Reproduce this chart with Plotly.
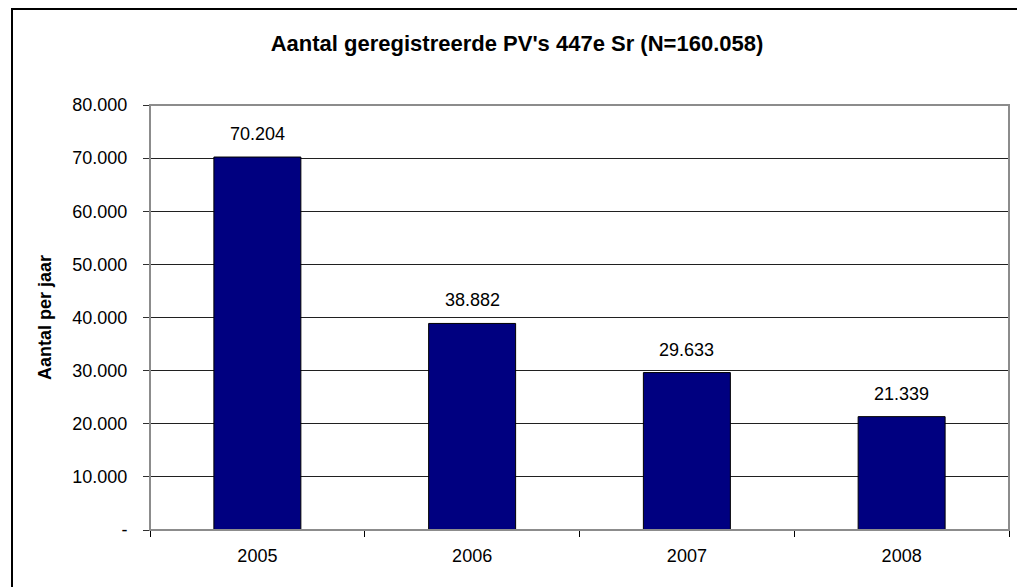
import plotly.graph_objects as go

# data
jaren = ["2005", "2006", "2007", "2008"]
aantallen = [70204, 38882, 29633, 21339]
y_ticks = [0, 10000, 20000, 30000, 40000, 50000, 60000, 70000, 80000]


def nl_getal(v):
    # Dutch notation: dot as thousands separator, zero shown as "-"
    if v == 0:
        return "-"
    return f"{v:,}".replace(",", ".")


# page has an 8px body margin, so the figure is a bit smaller than the window
W, H = 1017, 579
L, R, T, B = 142, 16, 97, 57
pw, ph = W - L - R, H - T - B

fig = go.Figure(go.Bar(
    x=jaren, y=aantallen,
    marker=dict(color="#000080", line=dict(color="#000000", width=1)),
    hoverinfo="x+y",
))

# data labels above the bars (category index as x)
for i, a in enumerate(aantallen):
    fig.add_annotation(x=i, y=a, text=nl_getal(a), showarrow=False,
                       yanchor="bottom", yshift=11,
                       font=dict(family="Arial, Liberation Sans", size=18, color="#000000"))

# grey plot-area border (top/right), black outer frame
fig.add_shape(type="rect", xref="paper", yref="paper", x0=0, x1=1, y0=0, y1=1,
              line=dict(color="#8c8c8c", width=2), layer="above")
fig.add_shape(type="rect", xref="paper", yref="paper",
              x0=(4 - L) / pw, x1=(1013 - L) / pw,
              y0=(H - B - 590) / ph, y1=(H - B - 1) / ph,
              line=dict(color="#000000", width=2))

fig.update_layout(
    width=W, height=H,
    margin=dict(l=L, r=R, t=T, b=B),
    paper_bgcolor="white", plot_bgcolor="white",
    bargap=0.595,
    showlegend=False,
    font=dict(family="Arial, Liberation Sans", size=18, color="#000000"),
    title=dict(text="<b>Aantal geregistreerde PV's 447e Sr (N=160.058)</b>",
               x=509 / W, xanchor="center", xref="container",
               y=1 - 35 / H, yanchor="middle", yref="container",
               font=dict(size=22, color="#000000")),
    xaxis=dict(type="category", range=[-0.5, len(jaren) - 0.5],
               showgrid=False, showline=True, automargin=False,
               linecolor="#000000", linewidth=1, tickangle=0,
               ticks="outside", tickson="boundaries", ticklen=6,
               tickcolor="#000000", ticklabelstandoff=9,
               tickfont=dict(size=18)),
    yaxis=dict(range=[0, 80000], tickvals=y_ticks,
               ticktext=[nl_getal(v) for v in y_ticks],
               showgrid=True, gridcolor="#202020", gridwidth=1,
               showline=True, linecolor="#303030", linewidth=1,
               ticks="outside", ticklen=6, tickcolor="#303030",
               ticklabelstandoff=12, zeroline=False, automargin=False,
               tickfont=dict(size=18),
               title=dict(text="<b>Aantal per jaar</b>", standoff=16,
                          font=dict(size=18))),
)

fig.write_html("out.html")
